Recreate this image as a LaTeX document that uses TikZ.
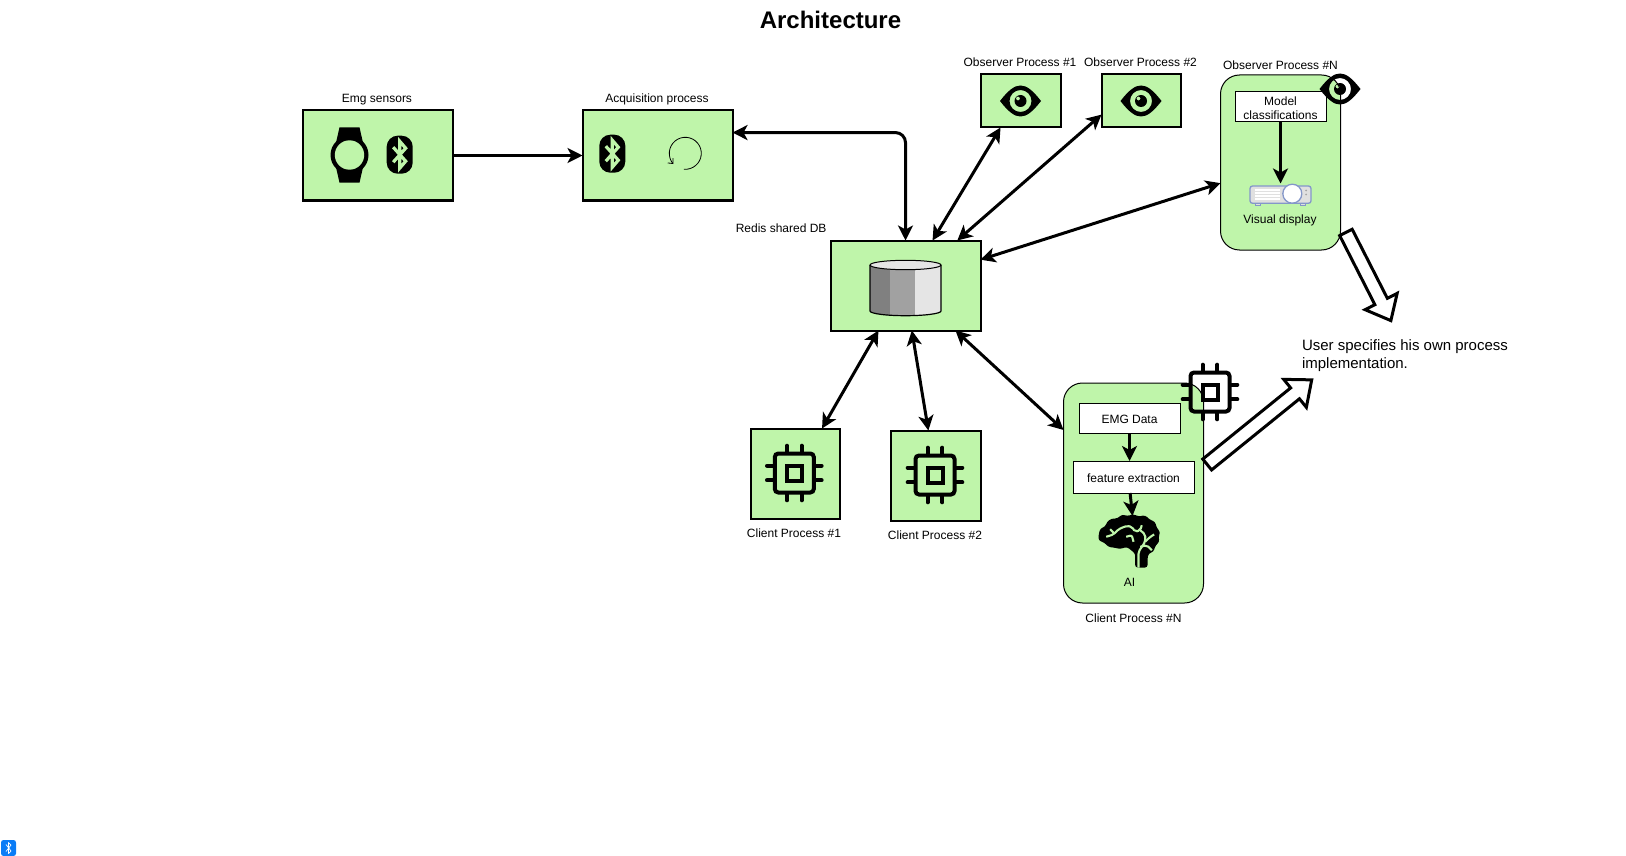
\documentclass[tikz,border=0pt]{standalone}
\usepackage{fontspec}
\setmainfont{Liberation Sans}
\usetikzlibrary{positioning,arrows.meta,shapes.arrows}
\definecolor{boxgreen}{RGB}{191,245,170}
\definecolor{lensblue}{RGB}{132,151,201}
\definecolor{btblue}{RGB}{10,124,246}
\tikzset{
  eyeicon/.pic={
    \fill[even odd rule] (-20.5,0) .. controls (-12,-11) and (-6,-15.5) .. (0,-15.5)
      .. controls (6,-15.5) and (12,-11) .. (20.5,0)
      .. controls (12,11) and (6,15.5) .. (0,15.5)
      .. controls (-6,15.5) and (-12,11) .. (-20.5,0) -- cycle (0,0) circle (11);
    \fill[even odd rule] (0,0) circle (6) (-2.5,-2.5) circle (2);
  },
  chipicon/.pic={
    \draw[line width=4pt,rounded corners=3.5pt] (-19.5,-19.5) rectangle (19.5,19.5);
    \draw[line width=4pt] (-7.5,-7.5) rectangle (7.5,7.5);
    \foreach \p in {-7.3,7.3} {
      \draw[line width=4pt,line cap=round] (\p,-27.3) -- (\p,-21);
      \draw[line width=4pt,line cap=round] (\p,21) -- (\p,27.3);
      \draw[line width=4pt,line cap=round] (-27.3,\p) -- (-21,\p);
      \draw[line width=4pt,line cap=round] (21,\p) -- (27.3,\p);
    }
  },
  bticon/.pic={
    \fill[rounded corners=11pt] (-13,-19) rectangle (13,19);
    \draw[boxgreen,line width=3.2pt,line join=miter] (-6.5,-7.5) -- (6,6.5) -- (0,13.5) -- (0,-13.5) -- (6,-6.5) -- (-6.5,7.5);
  },
  watchicon/.pic={
    \fill (-10,-27.7) -- (10,-27.7) -- (14,-10) -- (14,10) -- (10,27.7) -- (-10,27.7) -- (-14,10) -- (-14,-10) -- cycle;
    \fill (0,0) circle (19);
    \fill[boxgreen] (0,0) circle (14.7);
  },
  dbicon/.pic={
    \begin{scope}
      \clip (-35.5,-20.5) arc[start angle=180,end angle=360,x radius=35.5,y radius=4.7]
        -- (35.5,25.5) arc[start angle=0,end angle=180,x radius=35.5,y radius=4.7] -- cycle;
      \fill[black!50] (-36,-26) rectangle (-15.5,31);
      \fill[black!37] (-15.5,-26) rectangle (9.8,31);
      \fill[black!10] (9.8,-26) rectangle (36,31);
    \end{scope}
    \draw[line width=1.2pt] (-35.5,-20.5) -- (-35.5,25.5) arc[start angle=180,end angle=0,x radius=35.5,y radius=4.7] -- (35.5,-20.5);
    \draw[line width=1pt,fill=black!10] (0,-20.5) ellipse (35.5 and 4.7);
  },
  projicon/.pic={
    \draw[lensblue,fill=black!12,line width=1pt] (-25.5,8.8) rectangle (-20,11);
    \draw[lensblue,fill=black!12,line width=1pt] (19.5,8.8) rectangle (25,11);
    \draw[lensblue,fill=black!12,line width=1.3pt,rounded corners=2.5pt] (-30.5,-8.5) rectangle (30.5,8.8);
    \foreach \p in {-4.5,-1.5,1.5,4.5}
      \draw[white,line width=1.4pt] (-25.5,\p) -- (-1,\p);
    \fill[black!35] (25.5,-4) circle (1) (25.5,0) circle (1);
    \draw[lensblue,fill=white,line width=1.3pt] (11.8,-0.8) circle (9.5);
  },
  brainicon/.pic={
    \fill[rounded corners=2.5pt] (5.7,27) -- (5.7,13) -- (-2.7,6.3) -- (-9,8.5) -- (-16,7) -- (-21,6.5) -- (-25.3,2) -- (-31,0) -- (-31,-5) -- (-29.3,-12)
      -- (-24,-14) -- (-22.7,-18.7) -- (-17.7,-22) -- (-12,-22) -- (-7.7,-26) -- (-2,-24.5) -- (4,-26.3) -- (9,-24) -- (15.7,-25.3) -- (20,-21) -- (25.7,-18.7) -- (27,-13) -- (30.7,-8.7)
      -- (29,-3) -- (30,1.3) -- (26,5) -- (24,11.3) -- (19,13) -- (18,18) -- (18,27) -- cycle;
    \draw[boxgreen,line width=2.1pt,rounded corners=2pt] (-23.3,-3.7) -- (-16,-6) -- (-11,-11.3) -- (-2.7,-14.7) -- (2.3,-13.7) -- (5.7,-8.7) -- (10.7,-10.3) -- (12.3,-15.3);
    \draw[boxgreen,line width=2.1pt] (-19.3,-11.3) -- (-15.3,-7);
    \draw[boxgreen,line width=2.1pt,rounded corners=2pt] (-3.3,-3.7) -- (2.3,-5.3) -- (4,1.3);
    \draw[boxgreen,line width=2.1pt,rounded corners=2pt] (9,27) -- (9,11.3) -- (15.7,1.3) -- (15.7,-6) -- (10.7,-10.3);
    \draw[boxgreen,line width=2.1pt,rounded corners=2pt] (15.7,1.3) -- (20.7,-3.7) -- (24.7,-6);
    \draw[boxgreen,line width=2.1pt,rounded corners=2pt] (10.7,6.3) -- (17.3,4.7) -- (22.3,9.7);
  }
}
\begin{document}
\begin{tikzpicture}[
          x = 1pt, y = -1pt,
every node/.style = {font=\fontsize{12}{14}\selectfont, outer sep=0pt, inner sep=0pt},
          > = {Stealth[length=15pt,width=15pt,inset=4pt]},
        box/.style = {rectangle, draw, line width=2pt, fill=boxgreen},
      rbox/.style = {rectangle, draw, line width=1pt, fill=boxgreen, rounded corners=19pt},
      wbox/.style = {rectangle, draw, line width=1pt, fill=white, align=center},
      wone/.style = {wbox, text height=10.7pt, text depth=0pt},
       lbl/.style = {text height=9pt, text depth=3pt},
      spot/.style = {rectangle},
      link/.style = {line width=3pt},
    hollow/.style = {single arrow, draw, line width=3pt, fill=white, minimum width=33pt, text height=11pt,
                     single arrow head extend=11pt, single arrow tip angle=80}
                        ]
\useasboundingbox (0,0) rectangle (1626,856);
\node (title)[anchor=base, font=\fontsize{24}{28}\selectfont\bfseries] at (830.5,29) {Architecture};
\node (emg)[box, minimum width=150pt, minimum height=90pt] at (377.5,155.5) {};
\node (acq)[box, minimum width=150pt, minimum height=90pt, right=130pt of emg] {};
\node (redis)[box, minimum width=150pt, minimum height=90pt] at (905.5,285.5) {};
\node (obs1)[box, minimum width=80pt, minimum height=53pt] at (1020.5,101) {};
\node (obs2)[box, minimum width=79pt, minimum height=53pt, right=41pt of obs1] {};
\node (obsn)[rbox, minimum width=120pt, minimum height=175pt] at (1280.5,162.5) {};
\node (client1)[box, minimum width=89pt, minimum height=90pt] at (795,473.5) {};
\node (client2)[box, minimum width=90pt, minimum height=90pt] at (935.5,475.5) {};
\node (clientn)[rbox, minimum width=140pt, minimum height=220pt] at (1133.5,493) {};
\node (emglbl)[lbl, above=4.5pt of emg, xshift=-0.5pt] {Emg sensors};
\node (acqlbl)[lbl, above=4.5pt of acq, xshift=-0.5pt] {Acquisition process};
\node (redislbl)[lbl, above left=5pt and 4pt of redis] {Redis shared DB};
\node (obs1lbl)[lbl, above=4.5pt of obs1, xshift=-0.5pt] {Observer Process \#1};
\node (obs2lbl)[lbl, above=4.5pt of obs2, xshift=-0.5pt] {Observer Process \#2};
\node (obsnlbl)[lbl, above=2.7pt of obsn] {Observer Process \#N};
\node (client1lbl)[lbl, below=10.2pt of client1, xshift=-1pt] {Client Process \#1};
\node (client2lbl)[lbl, below=9.8pt of client2, xshift=-0.5pt] {Client Process \#2};
\node (clientnlbl)[lbl, below=10.7pt of clientn] {Client Process \#N};
\node (model)[wbox, minimum width=91pt, minimum height=30pt] at (1280.5,107) {\rule{0pt}{11pt}Model\\classifications};
\node (proj)[spot, minimum width=61pt, minimum height=22pt] at (1280.5,194.5) {};
\node (displbl)[lbl, below=9.3pt of proj, xshift=-0.5pt] {Visual display};
\node (emgdata)[wone, minimum width=101pt, minimum height=30pt] at (1129.5,418) {EMG Data};
\node (feature)[wone, minimum width=121pt, minimum height=32pt] at (1133.5,477) {feature extraction};
\node (brain)[spot, minimum width=62pt, minimum height=55pt] at (1129.5,540.5) {};
\node (ailbl)[lbl, below=9.3pt of brain] {AI};
\node (note)[anchor=north west, align=left, font=\fontsize{15}{18}\selectfont] at (1302,340) {User specifies his own process\\implementation.};
\node (hollow1)[hollow, minimum height=99pt, rotate=-63] at (1366.5,272.8) {};
\node (hollow2)[hollow, minimum height=134.5pt, rotate=39] at (1256.2,424.8) {};
\node (btbadge)[rectangle, fill=btblue, rounded corners=2.5pt, minimum width=15pt, minimum height=16pt] at (8.5,848) {};
\coordinate (braintop) at (1132.5,516);
\pic at (349.5,155) {watchicon};
\pic at (399.7,154.7) {bticon};
\pic at (612.3,153.7) {bticon};
\draw[line width=0.8pt, -{Straight Barb[length=4pt,width=7pt]}] (685.3,153.3) ++(95:16) arc[start angle=95, end angle=-222, radius=16];
\pic at (redis) {dbicon};
\pic at (obs1) {eyeicon};
\pic at (obs2) {eyeicon};
\pic at (1340,89) {eyeicon};
\pic at (794.3,473) {chipicon};
\pic at (935,475) {chipicon};
\pic at (1210,392) {chipicon};
\pic at (proj) {projicon};
\pic at (brain) {brainicon};
\draw[white, line width=0.7pt, line join=round] (6,844.5) -- (11,851) -- (8.5,853.5) -- (8.5,842.5) -- (11,845) -- (6,851.5);
\draw[->, link] (emg) to (acq);
\draw[<->, link, rounded corners=10pt] (acq.17) -| (redis.north);
\draw[<->, link] (redis.59) to (obs1.233);
\draw[<->, link] (redis.41) to (obs2.199);
\draw[<->, link] (redis.19) to (obsn.199);
\draw[<->, link] (redis.239) to (client1.59);
\draw[<->, link] (redis.278) to (client2.99);
\draw[<->, link] (redis.318) to (clientn.138);
\draw[->, link] (model) to (proj.north);
\draw[->, link] (emgdata) to (emgdata |- feature.north);
\draw[->, link] (feature.258) to (braintop);
\end{tikzpicture}
\end{document}
